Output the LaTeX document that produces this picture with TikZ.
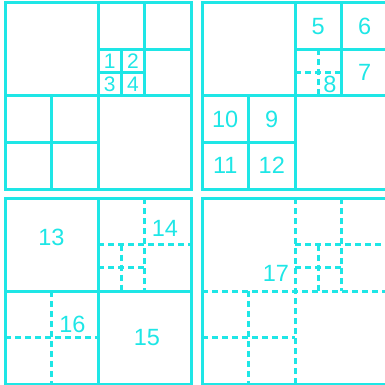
\documentclass[tikz,border=0pt]{standalone}
\usepackage{fontspec}
\setmainfont{Liberation Sans}
\definecolor{quadcol}{RGB}{30,230,230}
\tikzset{
  solidline/.style={draw=quadcol,line width=3pt},
  dashline/.style={draw=quadcol,line width=3pt,dash pattern=on 6pt off 4pt},
  lbl/.style={text=quadcol,inner sep=0pt,font=\fontsize{23.5}{28}\selectfont},
  smalllbl/.style={lbl,font=\fontsize{21}{25}\selectfont}
}
\begin{document}
\begin{tikzpicture}[x=1pt,y=-1pt]
\useasboundingbox (0,0) rectangle (385,385);
\def\u{11.625}
% top left
\begin{scope}[shift={(5pt,-3pt)},x=\u pt,y=-\u pt]
\draw[solidline] (0,0) rectangle (16,16);
\draw[solidline] (8,0) -- (8,16) (0,8) -- (16,8);
\draw[solidline] (12,0) -- (12,8) (8,4) -- (16,4);
\draw[solidline] (10,4) -- (10,8) (8,6) -- (12,6);
\draw[solidline] (4,8) -- (4,16) (0,12) -- (8,12);
\node[smalllbl] (1) at (9,5) {1};
\node[smalllbl] (2) at (11,5) {2};
\node[smalllbl] (3) at (9,7) {3};
\node[smalllbl] (4) at (11,7) {4};
\end{scope}
% top right
\begin{scope}[shift={(202pt,-3pt)},x=\u pt,y=-\u pt]
\draw[solidline] (0,0) rectangle (16,16);
\draw[solidline] (8,0) -- (8,16) (0,8) -- (16,8);
\draw[solidline] (12,0) -- (12,8) (8,4) -- (16,4);
\draw[solidline] (4,8) -- (4,16) (0,12) -- (8,12);
\draw[dashline] (10,4) -- (10,8) (8,6) -- (12,6);
\node[lbl] (5) at (10,2) {5};
\node[lbl] (6) at (14,2) {6};
\node[lbl] (7) at (14,6) {7};
\node[lbl] (8) at (11,7) {8};
\node[lbl] (9) at (6,10) {9};
\node[lbl] (10) at (2,10) {10};
\node[lbl] (11) at (2,14) {11};
\node[lbl] (12) at (6,14) {12};
\end{scope}
% bottom left
\begin{scope}[shift={(5pt,-198pt)},x=\u pt,y=-\u pt]
\draw[solidline] (0,0) rectangle (16,16);
\draw[solidline] (8,0) -- (8,16) (0,8) -- (16,8);
\draw[dashline] (12,0) -- (12,8) (8,4) -- (16,4);
\draw[dashline] (10,4) -- (10,8) (8,6) -- (12,6);
\draw[dashline] (4,8) -- (4,16) (0,12) -- (8,12);
\node[lbl] (13) at (4,3.4) {13};
\node[lbl] (14) at (13.75,2.6) {14};
\node[lbl] (15) at (12.2,12) {15};
\node[lbl] (16) at (5.8,10.9) {16};
\end{scope}
% bottom right
\begin{scope}[shift={(202pt,-198pt)},x=\u pt,y=-\u pt]
\draw[solidline] (0,0) rectangle (16,16);
\draw[dashline] (8,0) -- (8,16) (0,8) -- (16,8);
\draw[dashline] (12,0) -- (12,8) (8,4) -- (16,4);
\draw[dashline] (10,4) -- (10,8) (8,6) -- (12,6);
\draw[dashline] (4,8) -- (4,16) (0,12) -- (8,12);
\node[lbl] (17) at (6.35,6.45) {17};
\end{scope}
\end{tikzpicture}
\end{document}
